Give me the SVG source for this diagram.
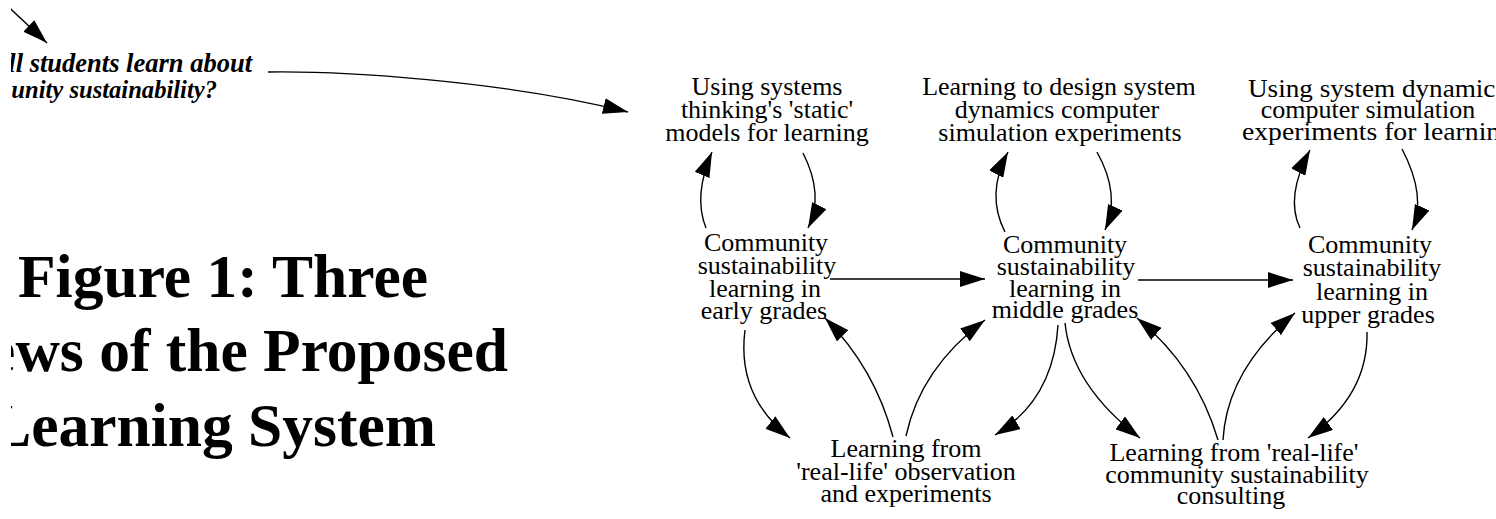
<svg xmlns="http://www.w3.org/2000/svg" width="1496" height="519" viewBox="0 0 1496 519">
  <style>
    .node { font-family: "Liberation Serif", "Times New Roman", serif; font-size: 26px; fill: #000; text-anchor: middle; }
    .wide { text-anchor: start; }
    .title { font-family: "Liberation Serif", "Times New Roman", serif; font-size: 61.5px; font-weight: bold; fill: #000; text-anchor: end; }
    .question { font-family: "Liberation Serif", "Times New Roman", serif; font-weight: bold; font-style: italic; fill: #000; text-anchor: end; }
    .link { fill: none; stroke: #000; stroke-width: 1.4; marker-end: url(#head); }
  </style>
  <defs>
    <marker id="head" markerUnits="userSpaceOnUse" viewBox="0 0 25 16" markerWidth="25" markerHeight="16" refX="25" refY="8" orient="auto">
      <path d="M0,0 L25,8 L0,16 z" fill="#000"/>
    </marker>
    <clipPath id="leftEdge">
      <rect x="11" y="0" width="1485" height="519"/>
    </clipPath>
  </defs>
  <rect width="1496" height="519" fill="#fff"/>

  <!-- caption block on the left -->
  <g id="title" clip-path="url(#leftEdge)">
    <text class="title" x="428" y="297">Figure 1: Three</text>
    <text class="title" x="508" y="371">Views of the Proposed</text>
    <text class="title" x="436" y="446">Learning System</text>
  </g>
  <g id="question" clip-path="url(#leftEdge)">
    <text class="question" x="252" y="72" font-size="26.5">How will students learn about</text>
    <text class="question" x="217" y="98" font-size="24.6">community sustainability?</text>
  </g>

  <!-- top row: learning methods -->
  <g id="static-models">
    <text class="node" x="767" y="95">Using systems</text>
    <text class="node" x="767" y="118">thinking's 'static'</text>
    <text class="node" x="767" y="141">models for learning</text>
  </g>
  <g id="design-experiments">
    <text class="node" x="1059" y="95">Learning to design system</text>
    <text class="node" x="1057" y="118">dynamics computer</text>
    <text class="node" x="1060" y="141">simulation experiments</text>
  </g>
  <g id="simulation-experiments">
    <text class="node wide" x="1248" y="97" textLength="258" lengthAdjust="spacingAndGlyphs">Using system dynamics</text>
    <text class="node" x="1368" y="118">computer simulation</text>
    <text class="node wide" x="1242" y="140" textLength="272" lengthAdjust="spacingAndGlyphs">experiments for learning</text>
  </g>

  <!-- middle row: grade levels -->
  <g id="early-grades">
    <text class="node" x="766" y="251">Community</text>
    <text class="node" x="767" y="274">sustainability</text>
    <text class="node" x="765" y="297">learning in</text>
    <text class="node" x="764" y="319">early grades</text>
  </g>
  <g id="middle-grades">
    <text class="node" x="1065" y="253">Community</text>
    <text class="node" x="1066" y="275">sustainability</text>
    <text class="node" x="1065" y="297">learning in</text>
    <text class="node" x="1065" y="318">middle grades</text>
  </g>
  <g id="upper-grades">
    <text class="node" x="1370" y="253">Community</text>
    <text class="node" x="1372" y="276">sustainability</text>
    <text class="node" x="1372" y="300">learning in</text>
    <text class="node" x="1368" y="323">upper grades</text>
  </g>

  <!-- bottom row: real-life learning -->
  <g id="observation">
    <text class="node" x="906" y="457">Learning from</text>
    <text class="node" x="906" y="480">'real-life' observation</text>
    <text class="node" x="906" y="502">and experiments</text>
  </g>
  <g id="consulting">
    <text class="node" x="1234" y="461">Learning from 'real-life'</text>
    <text class="node" x="1237" y="483">community sustainability</text>
    <text class="node" x="1231" y="504">consulting</text>
  </g>

  <!-- connectors -->
  <g id="connectors">
    <path class="link" d="M0,-1 L47,43" clip-path="url(#leftEdge)"/>
    <path class="link" d="M268,72 C340,71 500,80 628,112"/>

    <path class="link" d="M706,228 Q693,196 712,152"/>
    <path class="link" d="M803,153 Q824.5,195.5 808,228"/>
    <path class="link" d="M1005,232 Q985.5,194 1008,152"/>
    <path class="link" d="M1097,152 Q1121,195 1105,230"/>
    <path class="link" d="M1300,228 Q1285,197 1310,150"/>
    <path class="link" d="M1402,149 Q1427,196.5 1412,230"/>

    <path class="link" d="M830,279 L985,279"/>
    <path class="link" d="M1138,280 L1293,280"/>

    <path class="link" d="M745,330 Q736.5,396 790,438"/>
    <path class="link" d="M893,437 Q875,368.5 825,318"/>
    <path class="link" d="M906,436 Q920.5,368 985,320"/>
    <path class="link" d="M1058,325 Q1053.5,400 995,435"/>
    <path class="link" d="M1065,323 Q1071.5,385.5 1140,438"/>
    <path class="link" d="M1218,440 Q1196.5,367 1137,318"/>
    <path class="link" d="M1223,440 Q1227,369.5 1295,313"/>
    <path class="link" d="M1367,332 Q1368.5,395 1308,438"/>
  </g>
</svg>
